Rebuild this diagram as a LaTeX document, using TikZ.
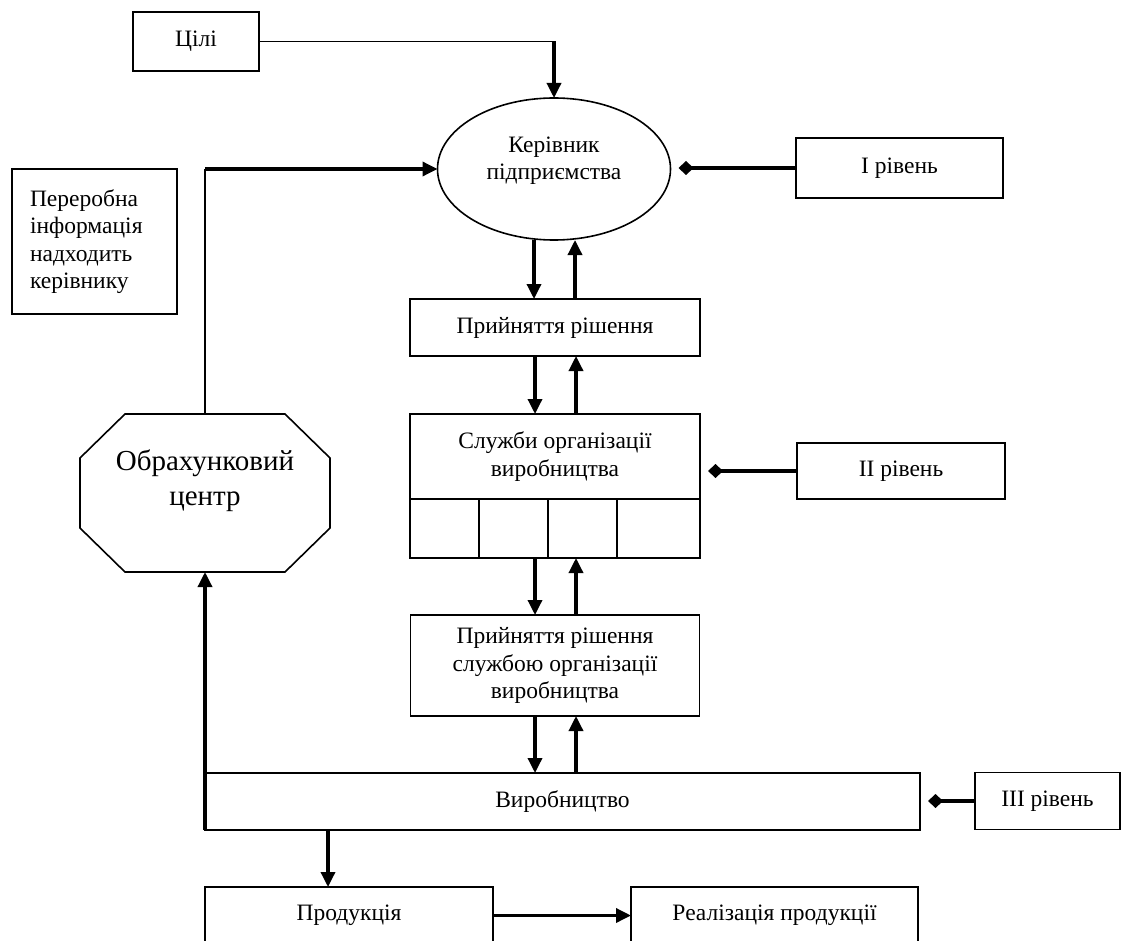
\documentclass[tikz,border=0pt]{standalone}
\usepackage{fontspec}
\setmainfont{Liberation Serif}
\usetikzlibrary{arrows.meta,positioning,shapes.geometric}
\tikzset{
  >={Triangle[length=15pt,width=14pt]},
  box/.style={draw,line width=1.6pt,outer sep=0pt,inner sep=2pt,align=center,
    font=\fontsize{23.5}{27.5}\selectfont},
  size/.style 2 args={minimum width=#1pt,minimum height=#2pt},
  wire/.style={line width=1.6pt},
  flow/.style={line width=3.4pt,->},
  level/.style={line width=3.4pt,-{Diamond[length=15pt,width=14pt]},shorten >=8pt},
}
\begin{document}
\begin{tikzpicture}[x=1pt,y=-1pt]
  \useasboundingbox (0,0) rectangle (1131,941);
  \clip (0,0) rectangle (1131,941);
  % top level
  \node[box,size={126}{59}] (goals) at (196,41.5) {Цілі};
  \node[box,ellipse,size={233}{142},text depth=22pt] (head) at (554,169) {Керівник\\підприємства};
  \node[box,size={207}{60}] (lvl1) at (899.5,168) {I рівень};
  \node[box,align=left,text width=129pt,inner xsep=18pt,minimum height=145pt] (note) at (94.5,241.5)
    {Переробна\\інформація\\надходить\\керівнику};
  % decision stack
  \node[box,size={290}{57}] (dec) at (555,327.5) {Прийняття рішення};
  \node[box,size={290}{85}] (serv) at (555,456.5) {Служби організації\\виробництва};
  \node[box,size={290}{59},below=0pt of serv] (cells) {};
  \foreach \dx in {69,138,207}
    \draw[wire] ([xshift=\dx pt]cells.north west) -- ([xshift=\dx pt]cells.south west);
  \node[box,size={208}{56}] (lvl2) at (901,471) {II рівень};
  \node[box,size={289}{101}] (dec2) at (555,665.5) {Прийняття рішення\\службою організації\\виробництва};
  \node[box,size={715}{57}] (prod) at (562.5,801.5) {Виробництво};
  \node[box,size={145}{57}] (lvl3) at (1047.5,801) {III рівень};
  \node[box,size={288}{57}] (goods) at (349,915.5) {Продукція};
  \node[box,size={287}{57}] (sales) at (774.5,915.5) {Реалізація продукції};
  % computing centre
  \node[box,draw=none,size={250}{158},text depth=30pt,font=\fontsize{29}{35}\selectfont] (calc) at (205,493)
    {Обрахунковий\\центр};
  \draw[wire] ([xshift=45pt]calc.north west) -- ([xshift=-45pt]calc.north east)
    -- ([yshift=-44pt]calc.north east) -- ([yshift=44pt]calc.south east)
    -- ([xshift=-45pt]calc.south east) -- ([xshift=45pt]calc.south west)
    -- ([yshift=44pt]calc.south west) -- ([yshift=-44pt]calc.north west) -- cycle;
  % goals
  \draw[wire] (goals.east) -- (goals.east -| head.north);
  \draw[flow] (goals.east -| head.north) -- (head.north);
  % feedback loop
  \draw[flow] (prod.south west) -- (calc.south);
  \draw[wire] (calc.north) -- (calc.north |- head.west);
  \draw[flow] (calc.north |- head.west) -- (head.west);
  % down and up
  \foreach \a/\b in {head/dec,dec/serv,cells/dec2,dec2/prod}{
    \draw[flow] ([xshift=-20pt]\a.south) -- ([xshift=-20pt]\a.south |- \b.north);
    \draw[flow] ([xshift=21pt]\a.south |- \b.north) -- ([xshift=21pt]\a.south);
  }
  % levels
  \foreach \l/\t in {lvl1/head,lvl2/serv,lvl3/prod}
    \draw[level] (\l.west) -- (\l.west -| \t.east);
  % output
  \draw[flow] ([xshift=-21pt]goods.north |- prod.south) -- ([xshift=-21pt]goods.north);
  \draw[flow] (goods.east) -- (sales.west);
\end{tikzpicture}
\end{document}
